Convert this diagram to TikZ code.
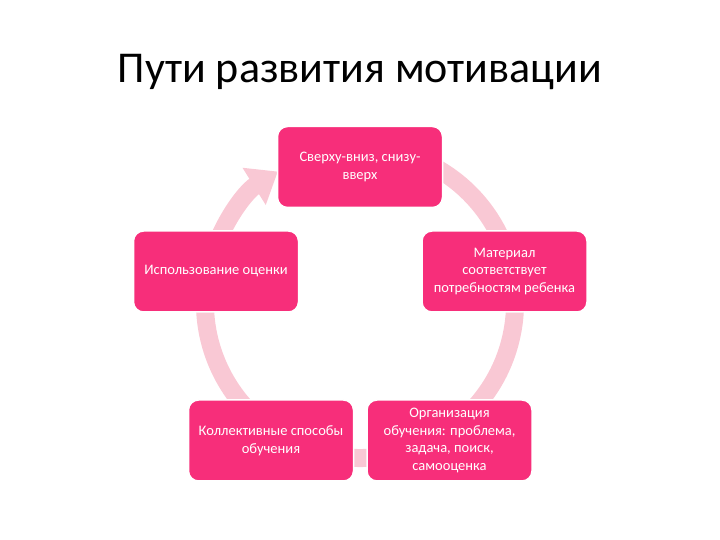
\documentclass[tikz,border=0pt]{standalone}
\usepackage{fontspec}
\setmainfont{Carlito}
\usetikzlibrary{arrows.meta}
\definecolor{boxpink}{HTML}{F72E7A}
\definecolor{ringpink}{HTML}{F9C8D4}
\begin{document}
\begin{tikzpicture}[x=1pt,y=1pt,
  box/.style={rounded corners=10pt, fill=boxpink, draw=white, line width=1.5pt,
    minimum width=165pt, minimum height=81pt, text=white, align=center,
    font=\fontsize{14.5}{17.5}\selectfont, inner sep=3pt},
  ring/.style={ringpink, line width=18pt, -{Triangle[width=42pt,length=28pt]}}]
\useasboundingbox (0,0) rectangle (720,540);
\node[anchor=base, font=\fontsize{44}{50}\selectfont] (title) at (360,457) {Пути развития мотивации};
\coordinate (c) at (360,237);
\draw[ring] (c) ++(75:155) arc[start angle=75, end angle=-238, radius=155];
\node[box] (top) at (360,373) {Сверху-вниз, снизу-\\вверх};
\node[box] (right) at (504.5,268.5) {Материал\\соответствует\\потребностям ребенка};
\node[box] (br) at (449.5,99.5) {Организация\\обучения: проблема,\\задача, поиск,\\самооценка};
\node[box] (bl) at (271,99.5) {Коллективные способы\\обучения};
\node[box] (left) at (216,268.5) {Использование оценки};
\end{tikzpicture}
\end{document}
